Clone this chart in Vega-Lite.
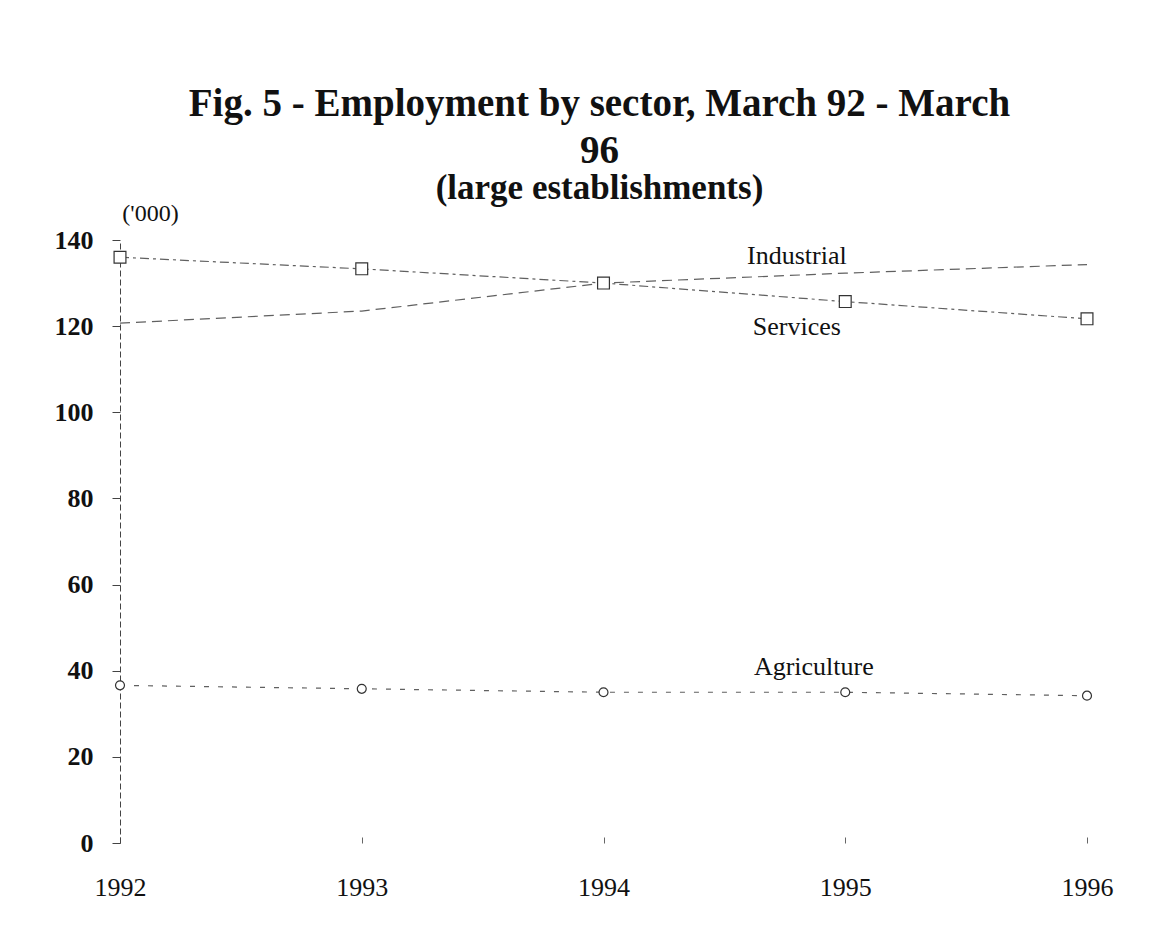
{
  "$schema": "https://vega.github.io/schema/vega-lite/v6.json",
  "autosize": {"type": "none"},
  "width": 967,
  "height": 603,
  "padding": {"left": 120, "top": 240, "right": 82, "bottom": 104},
  "background": "white",
  "config": {"view": {"stroke": null}, "font": "Liberation Serif"},
  "title": {
    "text": ["Fig.  5 - Employment by sector, March 92 - March", "96"],
    "subtitle": "(large establishments)",
    "font": "Liberation Serif",
    "fontSize": 39,
    "fontWeight": "bold",
    "color": "#111",
    "lineHeight": 47,
    "subtitleFont": "Liberation Serif",
    "subtitleFontSize": 35,
    "subtitleFontWeight": "bold",
    "subtitleColor": "#111",
    "subtitleLineHeight": 36,
    "subtitlePadding": 0,
    "anchor": "middle",
    "frame": "group",
    "dx": -4,
    "offset": -5
  },
  "datasets": {
    "series": [
      {"sector": "Services", "year": 1992, "value": 136.0},
      {"sector": "Services", "year": 1993, "value": 133.3},
      {"sector": "Services", "year": 1994, "value": 130.0},
      {"sector": "Services", "year": 1995, "value": 125.7},
      {"sector": "Services", "year": 1996, "value": 121.7},
      {"sector": "Industrial", "year": 1992, "value": 120.7},
      {"sector": "Industrial", "year": 1993, "value": 123.5},
      {"sector": "Industrial", "year": 1994, "value": 130.0},
      {"sector": "Industrial", "year": 1995, "value": 132.3},
      {"sector": "Industrial", "year": 1996, "value": 134.3},
      {"sector": "Agriculture", "year": 1992, "value": 36.6},
      {"sector": "Agriculture", "year": 1993, "value": 35.8},
      {"sector": "Agriculture", "year": 1994, "value": 35.0},
      {"sector": "Agriculture", "year": 1995, "value": 35.0},
      {"sector": "Agriculture", "year": 1996, "value": 34.2}
    ],
    "labels": [
      {"label": "Industrial", "year": 1994.8, "value": 136.3},
      {"label": "Services", "year": 1994.8, "value": 119.7},
      {"label": "Agriculture", "year": 1994.87, "value": 40.8}
    ]
  },
  "layer": [
    {
      "data": {"name": "series"},
      "mark": {"type": "line", "color": "#444", "strokeWidth": 1.2, "opacity": 0.85},
      "encoding": {
        "x": {
          "field": "year", "type": "quantitative",
          "scale": {"domain": [1992, 1996], "nice": false, "zero": false},
          "axis": {
            "values": [1992, 1993, 1994, 1995, 1996], "format": "d",
            "title": null, "grid": false, "domain": false,
            "ticks": true, "tickSize": -6, "tickColor": "#666",
            "labelFont": "Liberation Serif", "labelFontSize": 26, "labelColor": "#111",
            "labelPadding": 37, "labelFlush": false
          }
        },
        "y": {
          "field": "value", "type": "quantitative",
          "scale": {"domain": [0, 140], "nice": false},
          "axis": {
            "values": [0, 20, 40, 60, 80, 100, 120, 140],
            "grid": false,
            "domainColor": "#444", "domainDash": [6, 3], "domainWidth": 1,
            "tickColor": "#444", "tickSize": 8,
            "labelFont": "Liberation Serif", "labelFontSize": 26, "labelFontWeight": "bold",
            "labelColor": "#111", "labelPadding": 19,
            "title": "('000)", "titleAngle": 0, "titleX": 30, "titleY": -27,
            "titleAlign": "center", "titleBaseline": "middle",
            "titleFont": "Liberation Serif", "titleFontSize": 24, "titleFontWeight": "normal",
            "titleColor": "#111"
          }
        },
        "detail": {"field": "sector"},
        "strokeDash": {
          "field": "sector", "type": "nominal",
          "scale": {"domain": ["Services", "Industrial", "Agriculture"], "range": [[9, 4, 3, 4], [10, 6], [5, 9]]},
          "legend": null
        }
      }
    },
    {
      "data": {"name": "series"},
      "transform": [{"filter": "datum.sector !== 'Industrial'"}],
      "mark": {"type": "point", "filled": false, "fill": "white", "stroke": "#333", "strokeWidth": 1.2, "opacity": 1},
      "encoding": {
        "x": {"field": "year", "type": "quantitative"},
        "y": {"field": "value", "type": "quantitative"},
        "shape": {
          "field": "sector", "type": "nominal",
          "scale": {"domain": ["Services", "Agriculture"], "range": ["square", "circle"]},
          "legend": null
        },
        "size": {
          "field": "sector", "type": "nominal",
          "scale": {"domain": ["Services", "Agriculture"], "range": [140, 80]},
          "legend": null
        }
      }
    },
    {
      "data": {"name": "labels"},
      "mark": {"type": "text", "font": "Liberation Serif", "fontSize": 26, "color": "#111", "align": "center", "baseline": "middle", "clip": false},
      "encoding": {
        "x": {"field": "year", "type": "quantitative"},
        "y": {"field": "value", "type": "quantitative"},
        "text": {"field": "label"}
      }
    }
  ]
}
